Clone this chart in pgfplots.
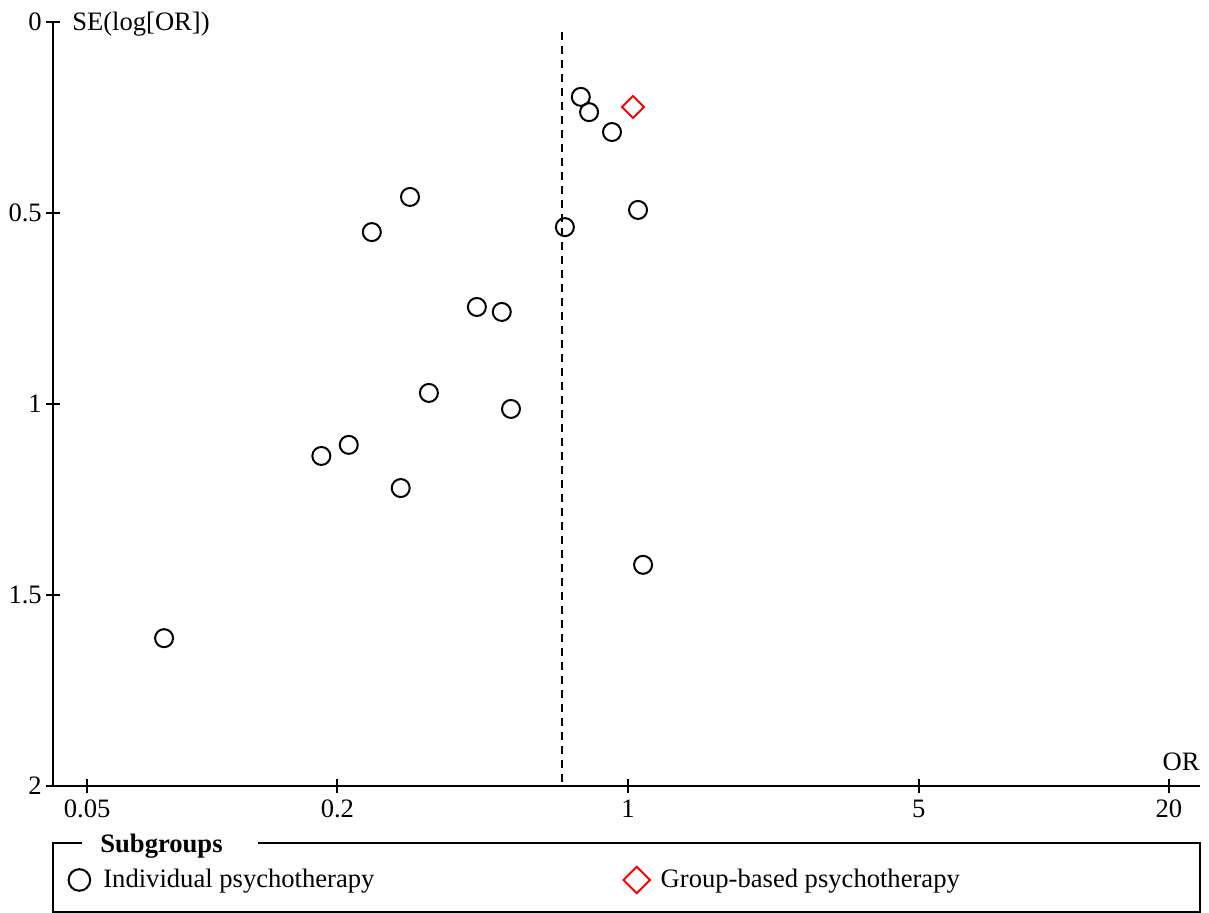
\documentclass[border=0pt]{standalone}
\usepackage{fontspec}
\setmainfont{Liberation Serif}
\usepackage{pgfplots}
\pgfplotsset{compat=1.18}
\begin{document}
\fontsize{13.3}{16}\selectfont
\begin{tikzpicture}
\begin{axis}[
  scale only axis, width=573.5pt, height=382pt,
  xmode=log, xmin=0.0414, xmax=23.75,
  ymin=0, ymax=2, y dir=reverse,
  axis x line=bottom, axis y line=left,
  axis line style={-, line width=1pt},
  every tick/.style={black, line width=1pt},
  tick align=center, major tick length=7pt,
  xtick={0.05,0.2,1,5,20}, xticklabels={0.05,0.2,1,5,20},
  ytick={0,0.5,1,1.5,2}, yticklabels={0,0.5,1,1.5,2},
  minor tick num=0, log ticks with fixed point,
  /pgf/number format/assume math mode=true,
  tick label style={font=\fontsize{13.3}{16}\selectfont},
  yticklabel style={xshift=2.5pt},
  xticklabel style={yshift=1pt},
  clip=false,
  xlabel={OR}, ylabel={SE(log[OR])},
  every axis x label/.style={at={(rel axis cs:1,0)}, anchor=base east, inner sep=0pt, yshift=8pt},
  every axis y label/.style={at={(axis description cs:0,1)}, anchor=west, xshift=5pt, yshift=-1pt},
  legend columns=2,
  legend style={at={(axis description cs:0,-0.123)}, anchor=west, xshift=6.5pt, draw=none, fill=none, inner sep=0pt,
    /tikz/column 2/.style={column sep=122.5pt}, font=\fontsize{13.3}{16}\selectfont},
  legend image code/.code={\path (-6pt,0pt) (9.5pt,0pt); \draw[#1, every mark/.append style={scale=1.2}] plot coordinates {(0pt,0pt)};},
]
\addplot[only marks, mark=o, mark size=4.5pt, line width=1pt, black] coordinates {
(0.770,0.196) (0.806,0.236) (0.915,0.288) (1.057,0.492) (0.705,0.537)
(0.299,0.458) (0.242,0.550) (0.433,0.746) (0.497,0.759) (0.332,0.971)
(0.523,1.013) (0.213,1.107) (0.183,1.136) (0.284,1.220) (1.087,1.421)
(0.0766,1.613)};
\addlegendentry{Individual psychotherapy}
\addplot[only marks, mark=square, mark options={rotate=45}, mark size=3.9pt, line width=1pt, red] coordinates {(1.028,0.2225)};
\addlegendentry{Group-based psychotherapy}
\addplot[black, dashed, line width=0.75pt, dash pattern=on 4pt off 3pt, forget plot] coordinates {(0.694,0.026) (0.694,2)};
\end{axis}
\draw[line width=0.75pt] ([yshift=-28.5pt]current axis.south west) rectangle ([yshift=-63pt]current axis.south east);
\node[fill=white, anchor=west, inner xsep=9pt, inner ysep=1pt, font=\bfseries\fontsize{13.3}{16}\selectfont] at ([xshift=14.5pt,yshift=-30pt]current axis.south west) {Subgroups\kern8.5pt};
\pgfresetboundingbox
\path ([xshift=-26.5pt, yshift=11pt]current axis.north west) rectangle ([xshift=4.5pt, yshift=-63.5pt]current axis.south east);
\end{tikzpicture}
\end{document}
